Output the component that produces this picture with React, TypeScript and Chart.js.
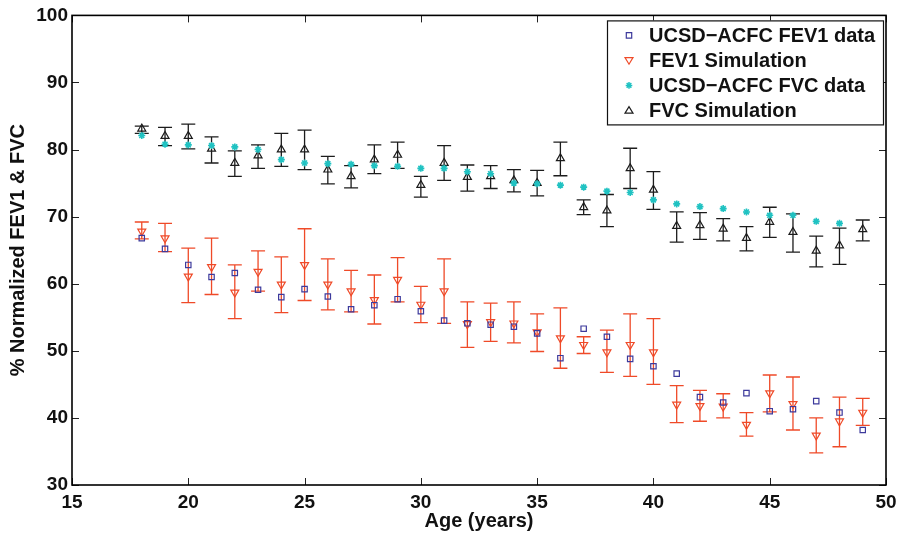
import React, { useEffect, useRef } from 'react';
import { Chart, registerables } from 'chart.js';

Chart.register(...registerables);

// ---- Data ----
const ages = [18, 19, 20, 21, 22, 23, 24, 25, 26, 27, 28, 29, 30, 31, 32, 33, 34, 35, 36, 37, 38, 39, 40, 41, 42, 43, 44, 45, 46, 47, 48, 49];

const fev1Data = [66.8, 65.2, 62.8, 61.0, 61.6, 59.1, 58.0, 59.2, 58.1, 56.2, 56.8, 57.7, 55.9, 54.5, 54.1, 53.9, 53.6, 52.6, 48.9, 53.3, 52.1, 48.8, 47.7, 46.6, 43.1, 42.3, 43.7, 41.0, 41.3, 42.5, 40.8, 38.2];

const fev1Sim = [67.8, 66.8, 61.1, 62.5, 58.7, 61.8, 59.9, 62.8, 59.9, 58.9, 57.6, 60.6, 56.9, 58.9, 54.0, 54.3, 54.1, 52.8, 51.9, 50.9, 49.8, 50.9, 49.8, 42.0, 41.8, 41.7, 39.0, 43.7, 42.1, 37.4, 39.5, 40.8];
const fev1SimLow = [66.7, 64.8, 57.2, 58.4, 54.8, 58.9, 55.7, 57.5, 56.1, 55.8, 54.0, 57.3, 54.2, 54.1, 50.5, 51.4, 51.2, 49.9, 47.4, 49.6, 46.8, 46.2, 45.0, 39.3, 39.5, 40.0, 37.3, 40.9, 38.2, 34.8, 35.7, 38.9];
const fev1SimHigh = [69.2, 69.0, 65.3, 66.8, 62.8, 64.9, 64.0, 68.2, 63.7, 62.0, 61.3, 63.9, 59.6, 63.7, 57.3, 57.1, 57.3, 55.5, 56.4, 52.1, 53.1, 55.5, 54.8, 44.8, 44.1, 43.6, 40.8, 46.4, 46.1, 40.0, 43.1, 42.9];

const fvcAges = [18, 19, 20, 21, 22, 23, 24, 25, 26, 27, 28, 29, 30, 31, 32, 33, 34, 35, 36, 37, 38, 39, 40, 41, 42, 43, 44, 45, 46, 47, 48];
const fvcData = [82.1, 80.8, 80.7, 80.6, 80.4, 80.0, 78.5, 78.0, 77.9, 77.8, 77.6, 77.5, 77.2, 77.2, 76.7, 76.4, 75.0, 74.9, 74.7, 74.4, 73.8, 73.6, 72.5, 71.9, 71.5, 71.2, 70.7, 70.2, 70.2, 69.3, 69.0];

const fvcSim = [83.1, 82.0, 82.0, 80.1, 78.0, 79.1, 80.0, 80.0, 77.0, 76.0, 78.5, 79.2, 74.7, 78.0, 75.9, 76.0, 75.4, 75.0, 78.7, 71.4, 70.9, 77.2, 74.0, 68.6, 68.7, 68.2, 66.8, 69.2, 67.7, 64.9, 65.7, 68.1];
const fvcSimLow = [82.4, 80.6, 80.1, 78.0, 76.0, 77.2, 77.5, 77.0, 74.9, 74.3, 76.4, 77.2, 72.9, 75.4, 73.8, 74.2, 73.7, 73.1, 76.1, 70.3, 68.5, 74.2, 71.1, 66.2, 66.6, 66.4, 64.9, 66.9, 64.7, 62.5, 62.9, 66.4];
const fvcSimHigh = [83.5, 83.3, 83.8, 81.9, 79.8, 80.7, 82.4, 82.9, 79.0, 77.6, 80.7, 81.1, 76.0, 80.6, 77.7, 77.6, 77.0, 76.9, 81.1, 72.5, 73.3, 80.2, 76.7, 70.7, 70.6, 69.7, 68.5, 71.4, 70.4, 67.1, 68.3, 69.5];

const seriesLabels = ['UCSD\u2212ACFC FEV1 data', 'FEV1 Simulation', 'UCSD\u2212ACFC FVC data', 'FVC Simulation'];
const xTitle = 'Age (years)';
const yTitle = '% Normalized FEV1 & FVC';

const FONT = "'Liberation Sans', Arial, Helvetica, sans-serif";
const C_SQ = '#3d3a9c';
const C_RED = '#ef4a28';
const C_CYAN = '#20c2c2';
const C_BLK = '#1c1c1c';

const pts = (xs: number[], ys: number[]) => xs.map((x, i) => ({ x, y: ys[i] }));

const errorBarPlugin = {
  id: 'errorBars',
  beforeDatasetsDraw(chart: any) {
    const { ctx } = chart;
    const xs = chart.scales.x;
    const ys = chart.scales.y;
    chart.data.datasets.forEach((ds: any) => {
      if (!ds.errLow) return;
      ctx.save();
      ctx.strokeStyle = ds.errColor;
      ctx.lineWidth = 1.3;
      ds.data.forEach((p: any, i: number) => {
        const x = xs.getPixelForValue(p.x);
        const y1 = ys.getPixelForValue(ds.errLow[i]);
        const y2 = ys.getPixelForValue(ds.errHigh[i]);
        ctx.beginPath();
        ctx.moveTo(x, y1);
        ctx.lineTo(x, y2);
        ctx.moveTo(x - 7, y1);
        ctx.lineTo(x + 7, y1);
        ctx.moveTo(x - 7, y2);
        ctx.lineTo(x + 7, y2);
        ctx.stroke();
      });
      ctx.restore();
    });
  },
};

const framePlugin = {
  id: 'frame',
  afterDatasetsDraw(chart: any) {
    const { ctx, chartArea: a } = chart;
    const xs = chart.scales.x;
    const ys = chart.scales.y;
    ctx.save();
    ctx.strokeStyle = '#222';
    ctx.lineWidth = 1;
    const tl = 7;
    ctx.beginPath();
    xs.ticks.forEach((t: any) => {
      const x = Math.round(xs.getPixelForValue(t.value)) + 0.5;
      ctx.moveTo(x, a.bottom);
      ctx.lineTo(x, a.bottom - tl);
      ctx.moveTo(x, a.top);
      ctx.lineTo(x, a.top + tl);
    });
    ys.ticks.forEach((t: any) => {
      const y = Math.round(ys.getPixelForValue(t.value)) + 0.5;
      ctx.moveTo(a.left, y);
      ctx.lineTo(a.left + tl, y);
      ctx.moveTo(a.right, y);
      ctx.lineTo(a.right - tl, y);
    });
    ctx.stroke();
    ctx.strokeStyle = '#000';
    ctx.lineWidth = 1.6;
    ctx.strokeRect(a.left, a.top, a.right - a.left, a.bottom - a.top);
    ctx.restore();
  },
};

function drawMarker(ctx: CanvasRenderingContext2D, kind: string, x: number, y: number, color: string) {
  ctx.save();
  ctx.strokeStyle = color;
  ctx.lineWidth = 1.2;
  ctx.beginPath();
  if (kind === 'square') {
    ctx.rect(x - 2.7, y - 2.7, 5.4, 5.4);
  } else if (kind === 'down') {
    ctx.moveTo(x - 4, y - 2.8);
    ctx.lineTo(x + 4, y - 2.8);
    ctx.lineTo(x, y + 3.8);
    ctx.closePath();
  } else if (kind === 'up') {
    ctx.moveTo(x - 4, y + 2.8);
    ctx.lineTo(x + 4, y + 2.8);
    ctx.lineTo(x, y - 3.8);
    ctx.closePath();
  } else {
    ctx.lineWidth = 1.5;
    const r = 3.3;
    for (let k = 0; k < 4; k++) {
      const ang = (k * Math.PI) / 4;
      ctx.moveTo(x - r * Math.cos(ang), y - r * Math.sin(ang));
      ctx.lineTo(x + r * Math.cos(ang), y + r * Math.sin(ang));
    }
  }
  ctx.stroke();
  ctx.restore();
}

const legendPlugin = {
  id: 'boxLegend',
  afterDraw(chart: any) {
    const { ctx, chartArea: a } = chart;
    const w = 276;
    const h = 104;
    const left = a.right - 3 - w;
    const top = a.top + 5;
    ctx.save();
    ctx.fillStyle = '#fff';
    ctx.fillRect(left, top, w, h);
    ctx.strokeStyle = '#111';
    ctx.lineWidth = 1.2;
    ctx.strokeRect(left + 0.5, top + 0.5, w, h);
    const kinds = ['square', 'down', 'star', 'up'];
    const colors = [C_SQ, C_RED, C_CYAN, C_BLK];
    ctx.font = `bold 20px ${FONT}`;
    ctx.textBaseline = 'middle';
    ctx.fillStyle = '#111';
    chart.data.datasets.forEach((ds: any, i: number) => {
      const y = top + 15 + i * 25;
      drawMarker(ctx, kinds[i], left + 22, y, colors[i]);
      ctx.fillStyle = '#111';
      ctx.fillText(ds.label, left + 42, y + 1);
    });
    ctx.restore();
  },
};

export default function App() {
  const ref = useRef<HTMLCanvasElement>(null);

  useEffect(() => {
    if (!ref.current) return;
    const tickFont = { family: FONT, size: 19, weight: 'bold' as const };
    const titleFont = { family: FONT, size: 20, weight: 'bold' as const };
    const chart = new Chart(ref.current, {
      type: 'scatter',
      data: {
        datasets: [
          {
            label: seriesLabels[0],
            data: pts(ages, fev1Data),
            pointStyle: 'rect',
            pointRadius: 3.8,
            borderColor: C_SQ,
            backgroundColor: 'rgba(0,0,0,0)',
            borderWidth: 1.2,
          },
          {
            label: seriesLabels[1],
            data: pts(ages, fev1Sim),
            pointStyle: 'triangle',
            rotation: 180,
            pointRadius: 4.6,
            borderColor: C_RED,
            backgroundColor: 'rgba(0,0,0,0)',
            borderWidth: 1.2,
            errLow: fev1SimLow,
            errHigh: fev1SimHigh,
            errColor: C_RED,
          } as any,
          {
            label: seriesLabels[2],
            data: pts(fvcAges, fvcData),
            pointStyle: 'star',
            pointRadius: 3.5,
            borderColor: C_CYAN,
            backgroundColor: C_CYAN,
            borderWidth: 1.6,
          },
          {
            label: seriesLabels[3],
            data: pts(ages, fvcSim),
            pointStyle: 'triangle',
            pointRadius: 4.6,
            borderColor: C_BLK,
            backgroundColor: 'rgba(0,0,0,0)',
            borderWidth: 1.2,
            errLow: fvcSimLow,
            errHigh: fvcSimHigh,
            errColor: C_BLK,
          } as any,
        ],
      },
      options: {
        animation: false,
        responsive: false,
        devicePixelRatio: 1,
        layout: { padding: { top: 14, right: 18, left: 0, bottom: 0 } },
        plugins: {
          legend: { display: false },
          tooltip: { enabled: false },
        },
        scales: {
          x: {
            type: 'linear',
            min: 15,
            max: 50,
            grid: { display: false, drawTicks: false, tickLength: 0 },
            border: { display: false },
            ticks: { stepSize: 5, font: tickFont, color: '#111', padding: 6, maxRotation: 0 },
            title: { display: true, text: xTitle, font: titleFont, color: '#111', padding: { top: 0, bottom: 0 } },
            afterFit: (s: any) => {
              s.height = 48;
            },
          },
          y: {
            type: 'linear',
            min: 30,
            max: 100,
            grid: { display: false, drawTicks: false, tickLength: 0 },
            border: { display: false },
            ticks: { stepSize: 10, font: tickFont, color: '#111', padding: 4 },
            title: { display: true, text: yTitle, font: titleFont, color: '#111', padding: { top: 6, bottom: 0 } },
            afterFit: (s: any) => {
              s.width = 72;
            },
          },
        },
      },
      plugins: [errorBarPlugin, framePlugin, legendPlugin],
    });
    return () => chart.destroy();
  }, []);

  return (
    <div style={{ position: 'fixed', left: 0, top: 0, width: 904, height: 533, background: '#fff' }}>
      <canvas ref={ref} width={904} height={533} />
    </div>
  );
}
